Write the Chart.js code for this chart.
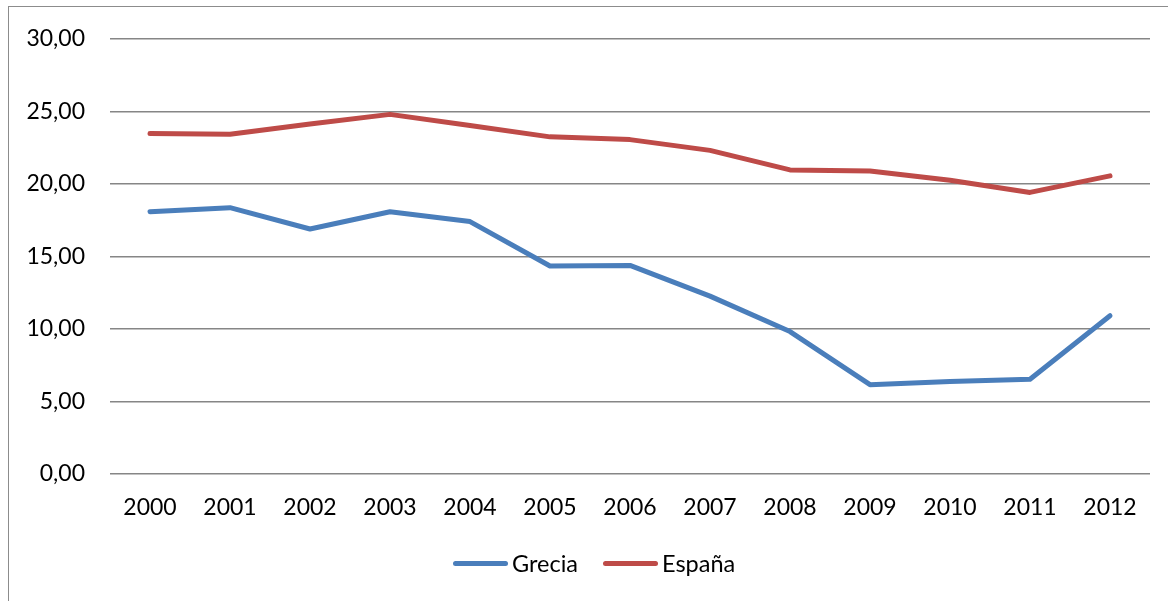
<!DOCTYPE html>
<html>
<head>
<meta charset="utf-8">
<script src="https://cdn.jsdelivr.net/npm/chart.js@4/dist/chart.umd.min.js"></script>
<style>
  html, body { margin: 0; padding: 0; background: #fff; }
  #frame {
    position: absolute; left: 8px; top: 6px; width: 1170px; height: 600px;
    border-left: 1.5px solid #8c8c8c; border-top: 1.5px solid #8c8c8c;
  }
  #wrap { position: absolute; left: 0; top: 0; width: 1168px; height: 601px; }
  #legend {
    position: absolute; left: 453px; top: 549px; height: 28px;
    display: flex; align-items: center;
    font-family: Lato, 'Open Sans', sans-serif; font-size: 23.5px; color: #000;
  }
  .item { display: flex; align-items: center; margin-right: 25px; }
  .swatch { width: 55px; height: 5px; border-radius: 3px; margin-right: 4px; }
</style>
</head>
<body>
<div id="frame"></div>
<div id="wrap"><canvas id="chart"></canvas></div>
<div id="legend"></div>
<script>
// Data
const years = ['2000', '2001', '2002', '2003', '2004', '2005', '2006',
               '2007', '2008', '2009', '2010', '2011', '2012'];
const grecia = [18.08, 18.36, 16.89, 18.08, 17.40, 14.34, 14.38,
                12.26, 9.82, 6.16, 6.37, 6.53, 10.91];
const espana = [23.47, 23.42, 24.13, 24.79, 24.02, 23.24, 23.05,
                22.31, 20.96, 20.89, 20.25, 19.41, 20.55];

const BLUE = '#4a7ebb';
const RED = '#be4b48';
const FONT = "Lato, 'Open Sans', sans-serif";

Chart.defaults.font.family = FONT;
Chart.defaults.font.size = 23;
Chart.defaults.color = '#000';

const chart = new Chart(document.getElementById('chart'), {
    type: 'line',
    data: {
        labels: years,
        datasets: [
            {
                label: 'Grecia',
                data: grecia,
                borderColor: BLUE,
                backgroundColor: BLUE,
                borderWidth: 5,
                pointRadius: 0,
                borderCapStyle: 'round',
                borderJoinStyle: 'round',
                tension: 0
            },
            {
                label: 'España',
                data: espana,
                borderColor: RED,
                backgroundColor: RED,
                borderWidth: 5,
                pointRadius: 0,
                borderCapStyle: 'round',
                borderJoinStyle: 'round',
                tension: 0
            }
        ]
    },
    options: {
        responsive: true,
        maintainAspectRatio: false,
        animation: false,
        layout: { padding: { top: 36, left: 0, right: 18, bottom: 57 } },
        scales: {
            x: {
                offset: true,
                grid: { display: false },
                border: { display: false },
                ticks: { padding: 12, maxRotation: 0 },
                afterFit: s => { s.height = 70; }
            },
            y: {
                min: 0,
                max: 30,
                ticks: {
                    stepSize: 5,
                    padding: 25,
                    callback: v => v.toFixed(2).replace('.', ',')
                },
                grid: { color: '#868686', lineWidth: 1.4, drawTicks: false },
                border: { display: false },
                afterFit: s => { s.width = 110; }
            }
        },
        plugins: {
            legend: { display: false },
            tooltip: { enabled: false }
        }
    }
});

// Legend built from the chart's own datasets
const legend = document.getElementById('legend');
chart.data.datasets.forEach(ds => {
    const item = document.createElement('div');
    item.className = 'item';
    item.innerHTML = `<span class="swatch" style="background:${ds.borderColor}"></span><span>${ds.label}</span>`;
    legend.appendChild(item);
});
</script>
</body>
</html>
